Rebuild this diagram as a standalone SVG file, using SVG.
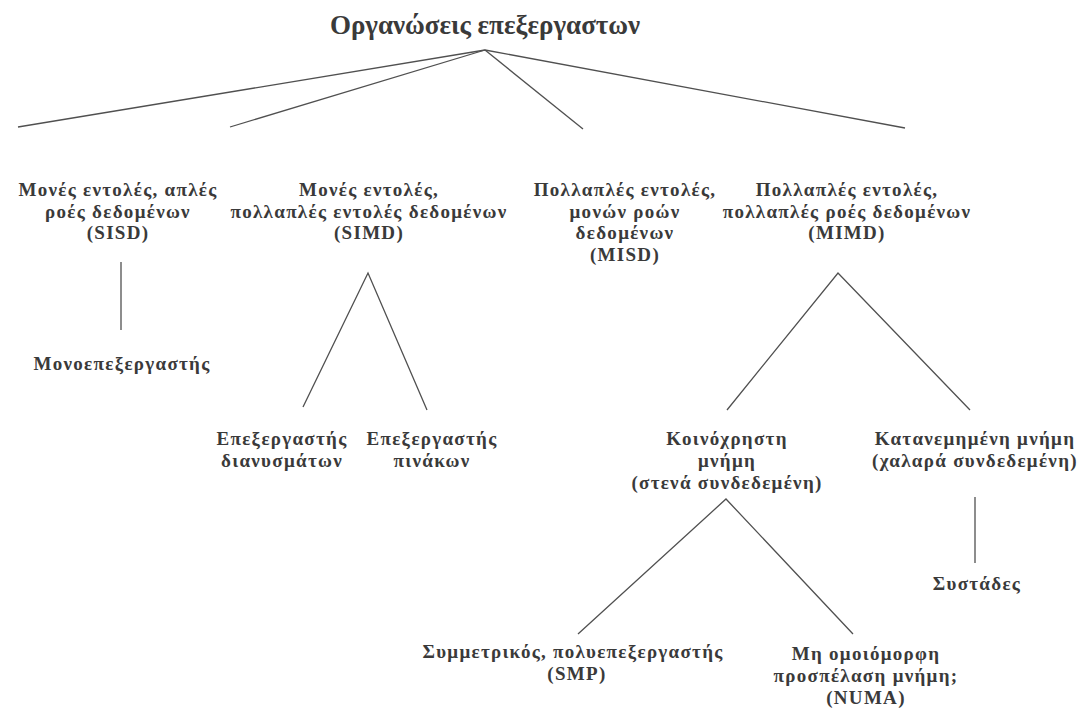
<svg xmlns="http://www.w3.org/2000/svg" width="1081" height="718" viewBox="0 0 1081 718">
  <style>
    text { font-family: "Liberation Serif", "DejaVu Serif", serif; font-weight: bold; fill: #3a3a3a; text-anchor: middle; }
    .title { font-size: 27px; }
    .lbl { font-size: 19px; letter-spacing: 1.3px; }
    .edge { stroke: #505050; stroke-width: 1.3; fill: none; }
  </style>
  <rect width="1081" height="718" fill="#ffffff"/>

  <!-- connectors -->
  <g id="connectors">
    <line class="edge" x1="485" y1="50" x2="18" y2="127"/>
    <line class="edge" x1="485" y1="50" x2="230" y2="127"/>
    <line class="edge" x1="485" y1="50" x2="583" y2="129"/>
    <line class="edge" x1="485" y1="50" x2="905" y2="128"/>
    <line class="edge" x1="121" y1="262" x2="121" y2="330"/>
    <polyline class="edge" points="303,407 368,273 427,410"/>
    <polyline class="edge" points="727,410 838,273 970,410"/>
    <polyline class="edge" points="578,634 726,499 853,634"/>
    <line class="edge" x1="975" y1="497" x2="975" y2="563"/>
  </g>

  <g id="root">
    <text class="title" x="485" y="34">Οργανώσεις επεξεργαστων</text>
  </g>

  <g id="sisd">
    <text class="lbl" x="118" y="196">Μονές εντολές, απλές</text>
    <text class="lbl" x="118" y="217.5">ροές δεδομένων</text>
    <text class="lbl" x="118" y="239">(SISD)</text>
  </g>
  <g id="simd">
    <text class="lbl" x="369" y="196">Μονές εντολές,</text>
    <text class="lbl" x="369" y="217.5">πολλαπλές εντολές δεδομένων</text>
    <text class="lbl" x="369" y="239">(SIMD)</text>
  </g>
  <g id="misd">
    <text class="lbl" x="625" y="196">Πολλαπλές εντολές,</text>
    <text class="lbl" x="625" y="217.5">μονών ροών</text>
    <text class="lbl" x="625" y="239">δεδομένων</text>
    <text class="lbl" x="625" y="260.5">(MISD)</text>
  </g>
  <g id="mimd">
    <text class="lbl" x="847" y="196">Πολλαπλές εντολές,</text>
    <text class="lbl" x="847" y="217.5">πολλαπλές ροές δεδομένων</text>
    <text class="lbl" x="847" y="239">(MIMD)</text>
  </g>

  <g id="uniprocessor">
    <text class="lbl" x="122" y="370">Μονοεπεξεργαστής</text>
  </g>
  <g id="vector">
    <text class="lbl" x="282" y="445">Επεξεργαστής</text>
    <text class="lbl" x="282" y="467">διανυσμάτων</text>
  </g>
  <g id="array">
    <text class="lbl" x="432" y="445">Επεξεργαστής</text>
    <text class="lbl" x="432" y="467">πινάκων</text>
  </g>

  <g id="shared-memory">
    <text class="lbl" x="727" y="445">Κοινόχρηστη</text>
    <text class="lbl" x="727" y="467">μνήμη</text>
    <text class="lbl" x="727" y="489">(στενά συνδεδεμένη)</text>
  </g>
  <g id="distributed-memory">
    <text class="lbl" x="975" y="445">Κατανεμημένη μνήμη</text>
    <text class="lbl" x="975" y="467">(χαλαρά συνδεδεμένη)</text>
  </g>
  <g id="clusters">
    <text class="lbl" x="977" y="590">Συστάδες</text>
  </g>

  <g id="smp">
    <text class="lbl" x="573" y="658">Συμμετρικός, πολυεπεξεργαστής</text>
    <text class="lbl" x="577" y="680">(SMP)</text>
  </g>
  <g id="numa">
    <text class="lbl" x="866" y="660">Μη ομοιόμορφη</text>
    <text class="lbl" x="866" y="682">προσπέλαση μνήμη;</text>
    <text class="lbl" x="866" y="704">(NUMA)</text>
  </g>
</svg>
